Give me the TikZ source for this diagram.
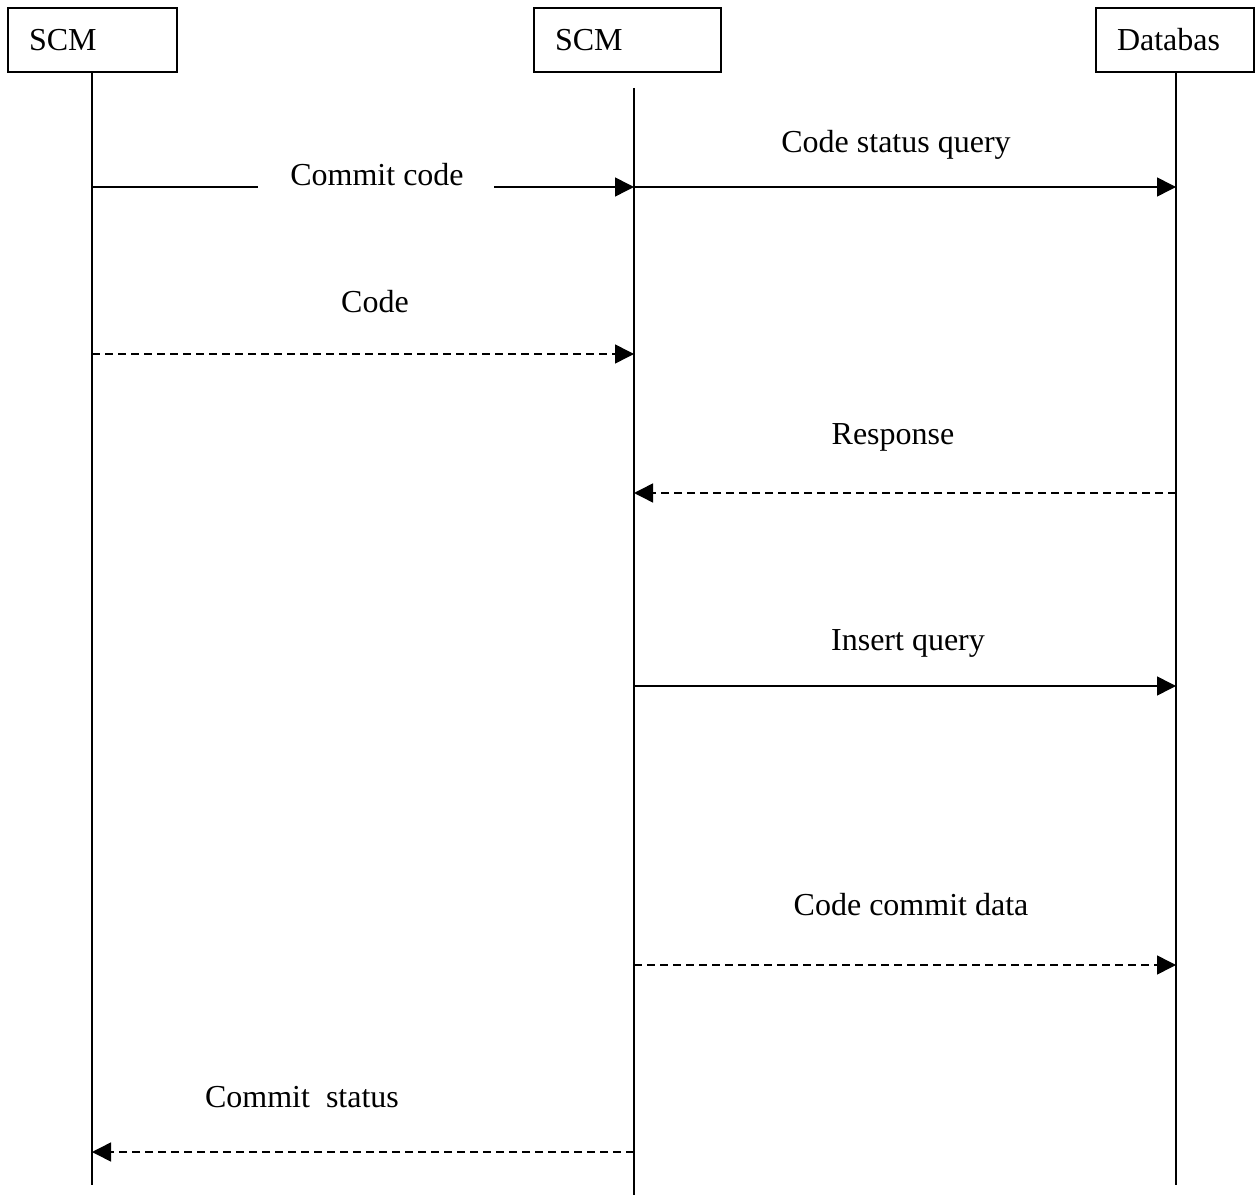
\documentclass[tikz,border=0pt]{standalone}
\usepackage{fontspec}
\setmainfont{Liberation Serif}
\usetikzlibrary{arrows.meta}
\begin{document}
\begin{tikzpicture}[x=0.5pt,y=-0.5pt,
  every node/.style={font=\fontsize{16}{19}\selectfont},
  actor/.style={draw,line width=0.8pt,inner xsep=10.5pt,inner ysep=0pt,align=left,minimum height=32pt},
  life/.style={line width=0.75pt},
  msg/.style={line width=0.75pt,-{Triangle[length=9.5pt,width=9.5pt]}},
  reply/.style={msg,dash pattern=on 4pt off 2.5pt},
  lbl/.style={inner sep=0pt}]
\useasboundingbox (0,0) rectangle (1258,1197);
% actors
\node[actor,text width=63.5pt] (A) at (92.5,40) {SCM};
\node[actor,text width=72.5pt] (B) at (627.5,40) {SCM};
\node[actor,text width=58pt] (C) at (1175,40) {Databas};
% lifelines
\coordinate (Atop) at (92,72);   \coordinate (Abot) at (92,1185);
\coordinate (Btop) at (634,88);  \coordinate (Bbot) at (634,1195);
\coordinate (Ctop) at (1176,72); \coordinate (Cbot) at (1176,1185);
\draw[life] (Atop) -- (Abot);
\draw[life] (Btop) -- (Bbot);
\draw[life] (Ctop) -- (Cbot);
% message anchor points
\coordinate (A1) at (92,187);  \coordinate (B1) at (634,187);
\coordinate (g1) at (258,187); \coordinate (g2) at (494,187);
\coordinate (C1) at (1176,187);
\coordinate (A2) at (92,354);  \coordinate (B2) at (634,354);
\coordinate (C3) at (1176,493); \coordinate (B3) at (634,493);
\coordinate (B4) at (634,686); \coordinate (C4) at (1176,686);
\coordinate (B5) at (634,965); \coordinate (C5) at (1176,965);
\coordinate (B6) at (634,1152); \coordinate (A6) at (92,1152);
% messages
\draw[life] (A1) -- (g1);
\draw[msg] (g2) -- (B1);
\node[lbl] (L1) at (377,175) {Commit code};
\draw[msg] (B1) -- (C1);
\node[lbl] (L2) at (896,145) {Code status query};
\draw[reply] (A2) -- (B2);
\node[lbl] (L3) at (375,302) {Code};
\draw[reply] (C3) -- (B3);
\node[lbl] (L4) at (893,437) {Response};
\draw[msg] (B4) -- (C4);
\node[lbl] (L5) at (908,643) {Insert query};
\draw[reply] (B5) -- (C5);
\node[lbl] (L6) at (911,905) {Code commit data};
\draw[reply] (B6) -- (A6);
\node[lbl] (L7) at (302,1097) {Commit\ \ status};
\end{tikzpicture}
\end{document}
